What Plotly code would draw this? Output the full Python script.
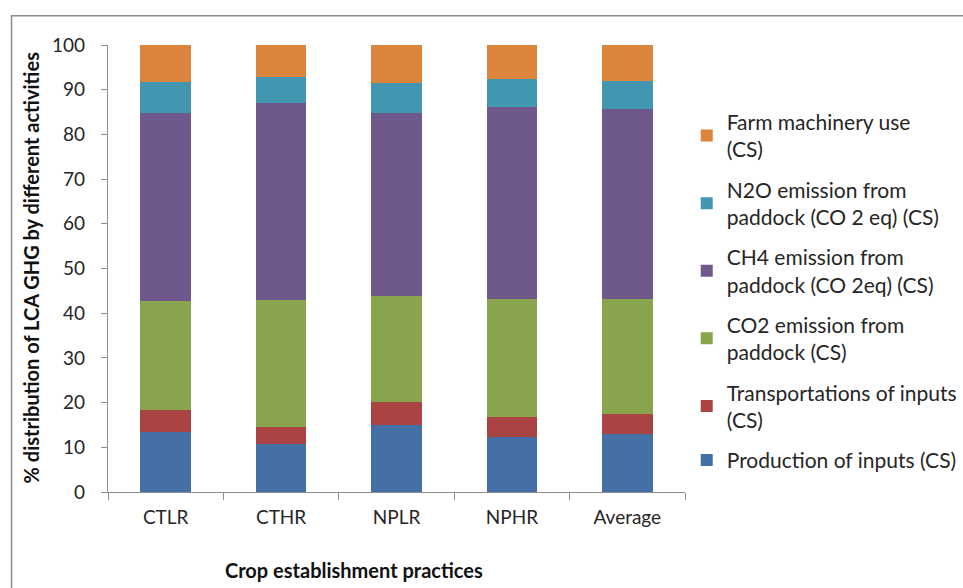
import plotly.graph_objects as go

categories = ["CTLR", "CTHR", "NPLR", "NPHR", "Average"]

production = [13.4, 10.8, 14.9, 12.25, 12.9]
transport = [5.0, 3.85, 5.2, 4.45, 4.65]
co2 = [24.25, 28.25, 23.7, 26.5, 25.65]
ch4 = [42.05, 44.2, 40.9, 43.0, 42.4]
n2o = [7.0, 5.8, 6.8, 6.1, 6.4]
machinery = [8.3, 7.1, 8.5, 7.7, 8.0]

series_names = [
    "Production of inputs (CS)",
    "Transportations of inputs<br>(CS)",
    "CO2 emission from<br>paddock (CS)",
    "CH4 emission from<br>paddock (CO 2eq) (CS)",
    "N2O emission from<br>paddock (CO 2 eq) (CS)",
    "Farm machinery use<br>(CS)",
]
series_values = [production, transport, co2, ch4, n2o, machinery]
series_colors = ["#4470A5", "#A94442", "#88A44C", "#6F588C", "#4296B0", "#DA843C"]

FONT = "Lato"
TXT = "#262626"

fig = go.Figure()
n = len(series_names)
for i, (name, vals, col) in enumerate(zip(series_names, series_values, series_colors)):
    fig.add_trace(go.Bar(
        x=categories, y=vals, name=name, legendgroup=f"g{i}",
        legendrank=n - i,
        marker=dict(color=col, line=dict(width=0)),
    ))

fig.update_layout(
    width=963, height=588,
    barmode="stack", bargap=0.56,
    plot_bgcolor="white", paper_bgcolor="white",
    margin=dict(l=108, r=278, t=45, b=96, autoexpand=False),
    font=dict(family=FONT, color=TXT, size=19),
    showlegend=True,
    legend=dict(
        x=1.003, y=0.873, xanchor="left", yanchor="top",
        traceorder="grouped", font=dict(size=21, family=FONT, color=TXT),
        itemwidth=30, tracegroupgap=10, bgcolor="rgba(0,0,0,0)",
    ),
    xaxis=dict(
        showline=True, linecolor="#8c8c8c", linewidth=1.3,
        ticks="outside", tickson="boundaries", ticklen=7, tickcolor="#8c8c8c",
        tickfont=dict(size=19, family=FONT, color=TXT),
        ticklabelstandoff=8,
    ),
    yaxis=dict(
        range=[0, 100], dtick=10, showgrid=False, zeroline=False,
        showline=True, linecolor="#8c8c8c", linewidth=1.3,
        ticks="outside", ticklen=6, tickcolor="#8c8c8c",
        tickfont=dict(size=19, family=FONT, color=TXT),
        ticklabelstandoff=12,
    ),
    annotations=[
        dict(text="<b>% distribution of LCA GHG by different activities</b>",
             xref="paper", yref="paper", x=-0.133, y=0.503, textangle=-90,
             xanchor="center", yanchor="middle",
             showarrow=False, font=dict(size=20, family=FONT, color="#111")),
        dict(text="<b>Crop establishment practices</b>",
             xref="paper", yref="paper", x=0.427, y=-0.175,
             xanchor="center", yanchor="middle",
             showarrow=False, font=dict(size=20, family=FONT, color="#111")),
    ],
    shapes=[
        dict(type="rect", xref="paper", yref="paper",
             x0=-0.1672, x1=1.8, y0=-0.5, y1=1.0656,
             line=dict(color="#8c8c8c", width=1.5), layer="below"),
    ],
)

fig.write_html("out.html")
